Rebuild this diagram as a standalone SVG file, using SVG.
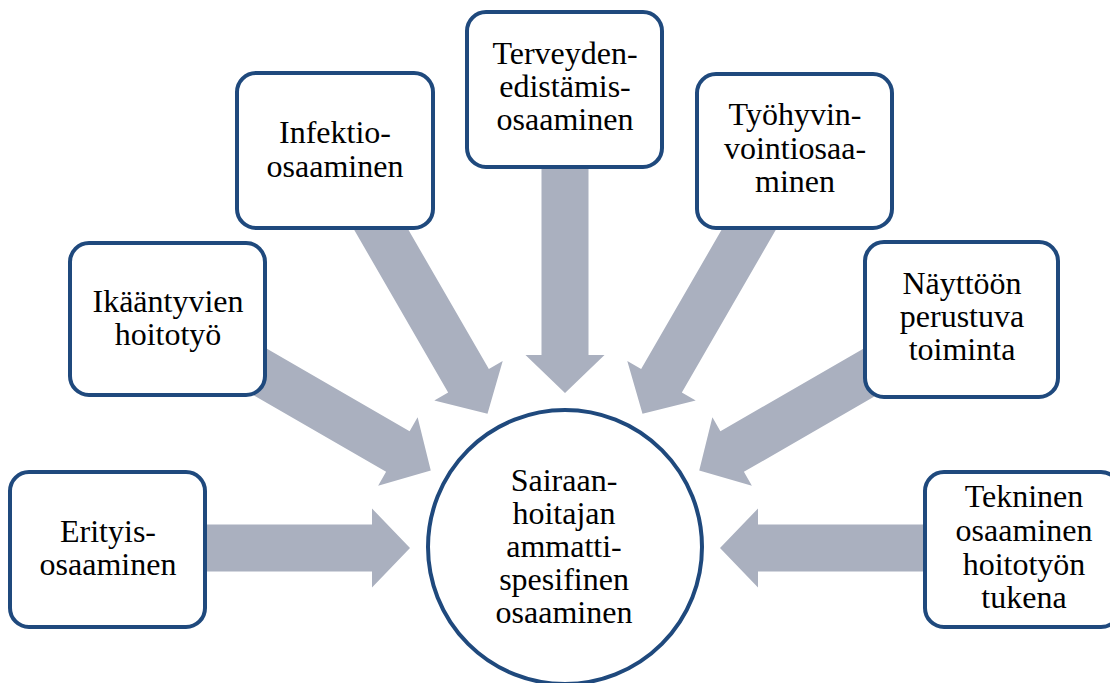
<svg xmlns="http://www.w3.org/2000/svg" xmlns:xlink="http://www.w3.org/1999/xlink" width="1110" height="683" viewBox="0 0 1110 683">
  <style>
    .box { fill: #ffffff; stroke: #1f497d; stroke-width: 4; }
    .hub { fill: #ffffff; stroke: #1f497d; stroke-width: 4; }
    .arrow { fill: #aab0bf; }
    .lbl { font-family: 'Liberation Serif', 'Times New Roman', 'DejaVu Serif', serif; font-size: 32px; fill: #000000; text-anchor: middle; }
  </style>
  <defs>
    <!-- block arrow pointing right; tip sits 155px left of the hub centre -->
    <path id="blockArrow" class="arrow" d="M -420 -23.5 L -193 -23.5 L -193 -39.5 L -155 0 L -193 39.5 L -193 23.5 L -420 23.5 Z"/>
  </defs>
  <rect width="1110" height="683" fill="#ffffff"/>

  <g id="connectors">
    <use xlink:href="#blockArrow" transform="translate(565 548) rotate(0)"/>
    <use xlink:href="#blockArrow" transform="translate(565 548) rotate(30)"/>
    <use xlink:href="#blockArrow" transform="translate(565 548) rotate(60)"/>
    <use xlink:href="#blockArrow" transform="translate(565 548) rotate(90)"/>
    <use xlink:href="#blockArrow" transform="translate(565 548) rotate(120)"/>
    <use xlink:href="#blockArrow" transform="translate(565 548) rotate(150)"/>
    <use xlink:href="#blockArrow" transform="translate(565 548) rotate(180)"/>
  </g>

  <g id="node-erityis">
    <rect class="box" x="10" y="472" width="195" height="155" rx="19"/>
    <text class="lbl" x="108" y="542">Erityis-</text>
    <text class="lbl" x="108" y="575">osaaminen</text>
  </g>

  <g id="node-ikaantyvien">
    <rect class="box" x="70" y="243" width="195" height="152" rx="19"/>
    <text class="lbl" x="168" y="312">Ikääntyvien</text>
    <text class="lbl" x="168" y="345">hoitotyö</text>
  </g>

  <g id="node-infektio">
    <rect class="box" x="237" y="73" width="196" height="155" rx="19"/>
    <text class="lbl" x="335" y="143">Infektio-</text>
    <text class="lbl" x="335" y="177">osaaminen</text>
  </g>

  <g id="node-terveyden">
    <rect class="box" x="467" y="12" width="195" height="155" rx="19"/>
    <text class="lbl" x="565" y="64">Terveyden-</text>
    <text class="lbl" x="565" y="97">edistämis-</text>
    <text class="lbl" x="565" y="130">osaaminen</text>
  </g>

  <g id="node-tyohyvin">
    <rect class="box" x="697" y="74" width="195" height="154" rx="19"/>
    <text class="lbl" x="795" y="125">Työhyvin-</text>
    <text class="lbl" x="795" y="158.5">vointiosaa-</text>
    <text class="lbl" x="795" y="192">minen</text>
  </g>

  <g id="node-nayttoon">
    <rect class="box" x="865" y="242" width="193" height="155" rx="19"/>
    <text class="lbl" x="962" y="294">Näyttöön</text>
    <text class="lbl" x="962" y="327">perustuva</text>
    <text class="lbl" x="962" y="360">toiminta</text>
  </g>

  <g id="node-tekninen">
    <rect class="box" x="925" y="472" width="195" height="155" rx="19"/>
    <text class="lbl" x="1024" y="507">Tekninen</text>
    <text class="lbl" x="1024" y="541">osaaminen</text>
    <text class="lbl" x="1024" y="574.5">hoitotyön</text>
    <text class="lbl" x="1024" y="607.5">tukena</text>
  </g>

  <g id="node-center">
    <circle class="hub" cx="565" cy="547" r="137"/>
    <text class="lbl" x="564" y="491">Sairaan-</text>
    <text class="lbl" x="564" y="524">hoitajan</text>
    <text class="lbl" x="564" y="557">ammatti-</text>
    <text class="lbl" x="564" y="590">spesifinen</text>
    <text class="lbl" x="564" y="623">osaaminen</text>
  </g>
</svg>
